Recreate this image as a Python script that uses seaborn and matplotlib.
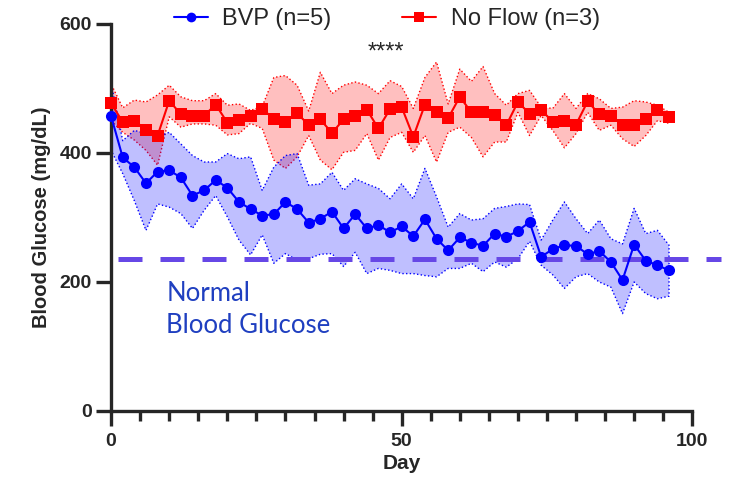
import numpy as np
import pandas as pd
import matplotlib
matplotlib.use("Agg")
import matplotlib.pyplot as plt
import seaborn as sns
from matplotlib.ticker import MultipleLocator, FixedLocator

# ---------------- data ----------------
days = [0, 2, 4, 6, 8, 10, 12, 14, 16, 18, 20, 22, 24, 26, 28, 30, 32, 34, 36, 38,
        40, 42, 44, 46, 48, 50, 52, 54, 56, 58, 60, 62, 64, 66, 68, 70, 72, 74, 76, 78,
        80, 82, 84, 86, 88, 90, 92, 94, 96]

noflow_mean = [477, 448, 450, 436, 427, 481, 460, 458, 458, 475, 447, 451, 457, 468, 453, 448, 462,
               443, 452, 431, 452, 458, 467, 438, 468, 471, 425, 475, 464, 454, 487, 463, 463,
               459, 443, 479, 461, 467, 448, 450, 444, 480, 460, 457, 444, 444, 452, 466, 455]
noflow_upper = [507, 470, 482, 479, 490, 505, 487, 481, 481, 492, 474, 476, 466, 472, 517, 520, 505,
                465, 525, 492, 505, 510, 505, 492, 512, 503, 469, 517, 541, 476, 530, 511, 534,
                492, 474, 492, 497, 471, 469, 492, 469, 492, 484, 469, 471, 481, 479, 474, 463]
noflow_lower = [450, 432, 420, 404, 381, 456, 440, 445, 445, 443, 428, 430, 446, 438, 389, 376, 394,
                427, 389, 374, 401, 404, 430, 389, 424, 432, 401, 427, 386, 432, 440, 424, 394,
                417, 417, 463, 427, 458, 435, 408, 430, 463, 435, 443, 422, 410, 427, 450, 446]

bvp_mean = [457, 393, 378, 353, 371, 373, 362, 334, 342, 358, 346, 324, 313, 303, 305, 324, 313,
            292, 298, 309, 283, 305, 283, 288, 277, 286, 271, 297, 267, 249, 269, 261, 256,
            275, 270, 279, 293, 239, 251, 257, 256, 243, 248, 231, 203, 258, 233, 226, 218]
bvp_upper = [508, 419, 435, 430, 425, 432, 414, 396, 386, 386, 399, 391, 394, 342, 378, 396, 399,
             350, 352, 370, 342, 360, 352, 345, 329, 352, 329, 376, 332, 285, 306, 296, 298,
             314, 317, 321, 320, 265, 296, 324, 298, 275, 296, 267, 259, 314, 275, 280, 257]
bvp_lower = [404, 368, 326, 280, 321, 316, 306, 283, 311, 334, 301, 265, 242, 273, 229, 244, 234,
             236, 243, 244, 224, 246, 213, 221, 218, 213, 213, 210, 208, 221, 221, 229, 216,
             231, 223, 236, 263, 226, 211, 190, 208, 213, 200, 192, 151, 200, 182, 174, 178]

normal_glucose = 235
group_labels = ["BVP (n=5)", "No Flow (n=3)"]
x_ticks = [0, 50, 100]
y_ticks = [0, 200, 400, 600]

# ---------------- figure ----------------
sns.set_style("ticks")
plt.rcParams["font.family"] = ["Liberation Sans", "DejaVu Sans"]

fig = plt.figure(figsize=(7.31, 4.79), dpi=100)
ax = fig.add_axes([0.152, 0.142, 0.795, 0.808])

n = len(days)
df = pd.DataFrame({
    "Day": days + days,
    "Glucose": bvp_mean + noflow_mean,
    "Group": [group_labels[0]] * n + [group_labels[1]] * n,
})

blue = "#0000ff"
red = "#ff0000"

ax.fill_between(days, noflow_lower, noflow_upper, facecolor=(1, 0, 0, 0.25),
                edgecolor=red, linestyle=":", linewidth=1.0, zorder=1)
ax.fill_between(days, bvp_lower, bvp_upper, facecolor=(0, 0, 1, 0.25),
                edgecolor=blue, linestyle=":", linewidth=1.0, zorder=1)

ax.axhline(normal_glucose, xmin=0.012, xmax=1.05, color="#6647e6", linewidth=3.6,
           dashes=(4.8, 3.6), clip_on=False, zorder=2)

sns.lineplot(data=df, x="Day", y="Glucose", hue="Group", style="Group",
             palette={group_labels[0]: blue, group_labels[1]: red},
             markers={group_labels[0]: "o", group_labels[1]: "s"},
             dashes=False, linewidth=1.5, markersize=8, markeredgewidth=0,
             ax=ax, clip_on=False, zorder=3, legend=True)

handles, labels = ax.get_legend_handles_labels()
for h in handles:
    h.set_markersize(7)
ax.legend(handles, labels, ncol=2, loc="center", bbox_to_anchor=(0.529, 0.960),
          bbox_transform=fig.transFigure, frameon=False, fontsize=17,
          handlelength=1.45, handletextpad=0.6, columnspacing=3.0)

ax.set_xlim(0, 100)
ax.set_ylim(0, 600)
sns.despine(ax=ax)
for s in ["left", "bottom"]:
    ax.spines[s].set_linewidth(2.4)

ax.xaxis.set_major_locator(FixedLocator(x_ticks))
ax.xaxis.set_minor_locator(MultipleLocator(5))
ax.yaxis.set_major_locator(FixedLocator(y_ticks))
ax.tick_params(axis="both", which="major", length=11, width=2.4, labelsize=14, pad=3)
ax.tick_params(axis="x", which="major", pad=5)
ax.tick_params(axis="x", which="minor", length=7, width=2.4)
for lab in ax.get_xticklabels() + ax.get_yticklabels():
    lab.set_fontweight("bold")

ax.set_xlabel("Day", fontsize=15, fontweight="bold", labelpad=3)
ax.set_ylabel("Blood Glucose (mg/dL)", fontsize=14.5, fontweight="bold", labelpad=6)

ax.text(9.5, 201, "Normal\nBlood Glucose", color="#1f3fc0", fontsize=18.5,
        family=["Lato", "DejaVu Sans"], va="top", ha="left", linespacing=1.35)
ax.text(47.3, 555, "****", ha="center", va="center", fontsize=17)

fig.savefig("out.png", dpi=100)
